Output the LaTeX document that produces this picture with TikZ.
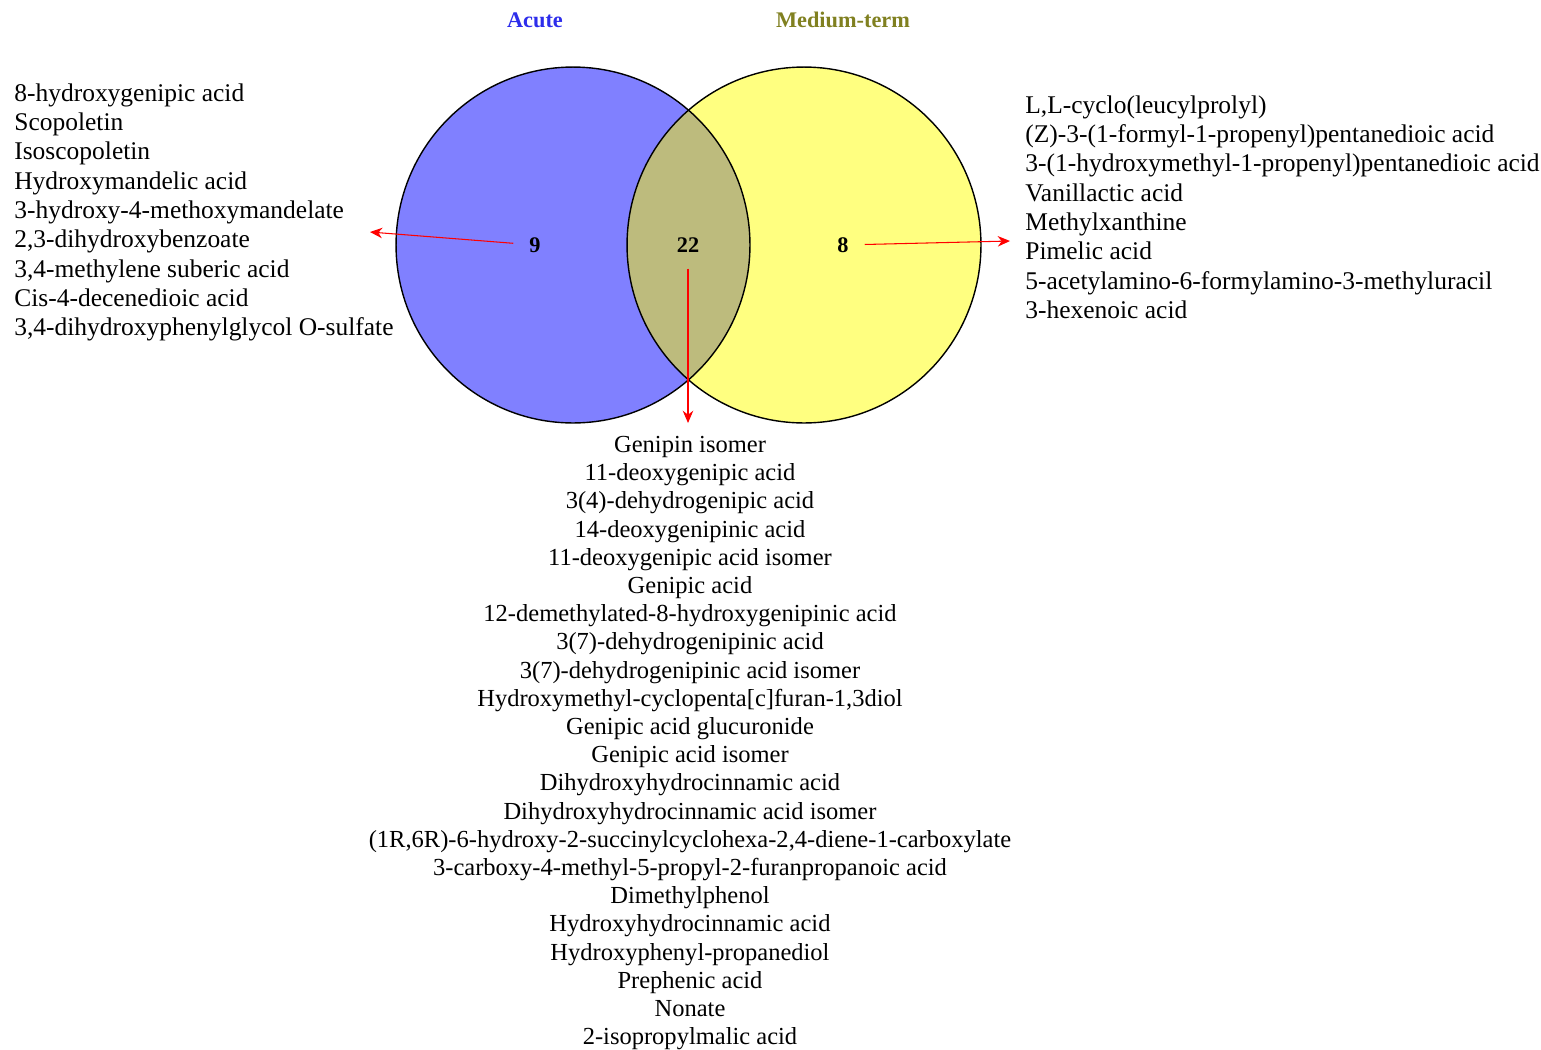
\documentclass[tikz,border=0pt]{standalone}
\usepackage{fontspec}
\setmainfont{Liberation Serif}
\usetikzlibrary{arrows.meta,%
                positioning}
\definecolor{acuteblue}{RGB}{128,128,255}
\definecolor{mediumyellow}{RGB}{255,255,128}
\definecolor{overlapkhaki}{RGB}{189,187,125}
\definecolor{acutetext}{RGB}{45,45,235}
\definecolor{mediumtext}{RGB}{128,128,32}

\begin{document}
\begin{tikzpicture}[x = 0.02cm, y = -0.02cm]
  \useasboundingbox (0,0) rectangle (1541,1049);
  \tikzset{CircleStyle/.style = {draw           = black,
                                 line width     = 0.8pt}}
  \tikzset{TitleStyle/.style  = {font           = \fontsize{12.7}{15}\selectfont\bfseries,
                                 inner sep      = 0pt}}
  \tikzset{CountStyle/.style  = {font           = \fontsize{12.7}{15}\selectfont\bfseries,
                                 inner sep      = 9pt}}
  \tikzset{ListStyle/.style   = {font           = \fontsize{14.5}{16.7}\selectfont,
                                 inner sep      = 0pt}}
  \tikzset{ArrowStyle/.style  = {draw           = red,
                                 line width     = 0.6pt,
                                 -{Stealth[length=7pt,width=6pt]}}}
  % circles
  \coordinate (AcuteC) at (573,245);
  \coordinate (MediumC) at (804,245);
  \fill[acuteblue] (AcuteC) ellipse [x radius=3.54cm, y radius=3.56cm];
  \fill[mediumyellow] (MediumC) ellipse [x radius=3.54cm, y radius=3.56cm];
  \begin{scope}
    \clip (AcuteC) ellipse [x radius=3.54cm, y radius=3.56cm];
    \fill[overlapkhaki] (MediumC) ellipse [x radius=3.54cm, y radius=3.56cm];
  \end{scope}
  \draw[CircleStyle] (AcuteC) ellipse [x radius=3.54cm, y radius=3.56cm];
  \draw[CircleStyle] (MediumC) ellipse [x radius=3.54cm, y radius=3.56cm];
  % titles and counts
  \node[TitleStyle, text = acutetext] (AcuteTitle) at (535,20) {Acute};
  \node[TitleStyle, text = mediumtext] (MediumTitle) at (843,20) {Medium-term};
  \node[CountStyle] (N9) at (535,245) {9};
  \node[CountStyle] (N22) at (688,245) {22};
  \node[CountStyle] (N8) at (843,245) {8};
  % lists
  \node[ListStyle, anchor = north west, align = left] (AcuteList) at (14,83)
    {8-hydroxygenipic acid\\
     Scopoletin\\
     Isoscopoletin\\
     Hydroxymandelic acid\\
     3-hydroxy-4-methoxymandelate\\
     2,3-dihydroxybenzoate\\
     3,4-methylene suberic acid\\
     Cis-4-decenedioic acid\\
     3,4-dihydroxyphenylglycol O-sulfate};
  \node[ListStyle, anchor = north west, align = left] (MediumList) at (1025,95)
    {L,L-cyclo(leucylprolyl)\\
     (Z)-3-(1-formyl-1-propenyl)pentanedioic acid\\
     3-(1-hydroxymethyl-1-propenyl)pentanedioic acid\\
     Vanillactic acid\\
     Methylxanthine\\
     Pimelic acid\\
     5-acetylamino-6-formylamino-3-methyluracil\\
     3-hexenoic acid};
  \node[ListStyle, font = \fontsize{13.95}{16.05}\selectfont, anchor = north, align = center]
    (SharedList) at (690,436)
    {Genipin isomer\\
     11-deoxygenipic acid\\
     3(4)-dehydrogenipic acid\\
     14-deoxygenipinic acid\\
     11-deoxygenipic acid isomer\\
     Genipic acid\\
     12-demethylated-8-hydroxygenipinic acid\\
     3(7)-dehydrogenipinic acid\\
     3(7)-dehydrogenipinic acid isomer\\
     Hydroxymethyl-cyclopenta[c]furan-1,3diol\\
     Genipic acid glucuronide\\
     Genipic acid isomer\\
     Dihydroxyhydrocinnamic acid\\
     Dihydroxyhydrocinnamic acid isomer\\
     (1R,6R)-6-hydroxy-2-succinylcyclohexa-2,4-diene-1-carboxylate\\
     3-carboxy-4-methyl-5-propyl-2-furanpropanoic acid\\
     Dimethylphenol\\
     Hydroxyhydrocinnamic acid\\
     Hydroxyphenyl-propanediol\\
     Prephenic acid\\
     Nonate\\
     2-isopropylmalic acid};
  % arrows
  \coordinate (AcuteTip) at (370,232);
  \coordinate (MediumTip) at (1010,241);
  \coordinate (SharedTip) at (688,423);
  \draw[ArrowStyle] (N9) -- (AcuteTip);
  \draw[ArrowStyle] (N8) -- (MediumTip);
  \draw[ArrowStyle] (N22) -- (SharedTip);
\end{tikzpicture}
\end{document}
